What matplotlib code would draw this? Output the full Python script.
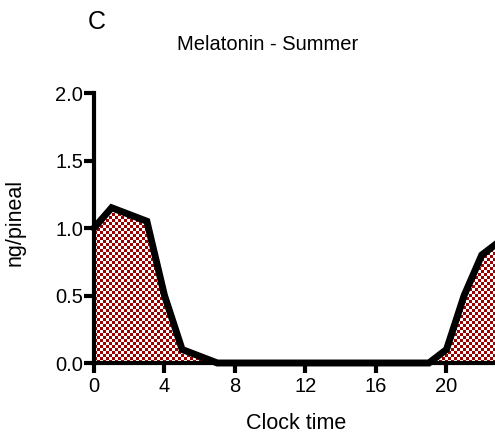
import numpy as np
import matplotlib
matplotlib.use("Agg")
import matplotlib.pyplot as plt
from matplotlib.colors import ListedColormap

plt.rcParams['font.family'] = ['Liberation Sans', 'DejaVu Sans']

hours = [0, 1, 2, 3, 4, 5, 6, 7, 8, 9, 10, 11, 12, 13, 14, 15, 16, 17, 18, 19, 20, 21, 22, 23, 24]
melatonin = [1.0, 1.15, 1.10, 1.05, 0.5, 0.1, 0.05, 0.0, 0.0, 0.0, 0.0, 0.0, 0.0,
             0.0, 0.0, 0.0, 0.0, 0.0, 0.0, 0.0, 0.1, 0.5, 0.8, 0.9, 1.0]
xticks = [0, 4, 8, 12, 16, 20]
yticks = [0.0, 0.5, 1.0, 1.5, 2.0]

W, H = 495, 440
fig = plt.figure(figsize=(W / 100, H / 100), dpi=100)
ax = fig.add_axes([94 / W, 77 / H, 423 / W, 270 / H])
ax.set_xlim(0, 24)
ax.set_ylim(0, 2)

fill = ax.fill_between(hours, melatonin, 0, facecolor='none', edgecolor='none')
path = fill.get_paths()[0]

# checkerboard pattern (3 px cells)
nx, ny = 141, 90
ii, jj = np.meshgrid(np.arange(nx), np.arange(ny))
checker = ((ii + jj) % 2).astype(float)
cmap = ListedColormap(['white', '#990000'])
im = ax.imshow(checker, cmap=cmap, extent=[0, 24, 0, 2], aspect='auto',
               interpolation='nearest', origin='lower', zorder=1)
im.set_clip_path(path, transform=ax.transData)

ax.plot(hours, melatonin, color='black', lw=5, solid_joinstyle='miter', zorder=3, clip_on=False)

for s in ['top', 'right']:
    ax.spines[s].set_visible(False)
for s in ['left', 'bottom']:
    ax.spines[s].set_linewidth(3)
    ax.spines[s].set_zorder(4)

ax.set_xticks(xticks)
ax.set_yticks(yticks)
ax.set_yticklabels([f"{v:.1f}" for v in yticks])
ax.tick_params(axis='both', length=7, width=3, labelsize=14.5, color='black')
ax.tick_params(axis='y', pad=1)
ax.tick_params(axis='x', pad=3)

fig.text(97 / W, 1 - 22 / H, "C", ha='center', va='center', fontsize=18)
fig.text(268 / W, 1 - 45 / H, "Melatonin - Summer", ha='center', va='center', fontsize=14.5)
fig.text(15 / W, 1 - 222 / H, "ng/pineal", ha='center', va='center', rotation=90, fontsize=15.5)
fig.text(296 / W, 1 - 423 / H, "Clock time", ha='center', va='center', fontsize=15.5)

fig.savefig("out.png", dpi=100)
